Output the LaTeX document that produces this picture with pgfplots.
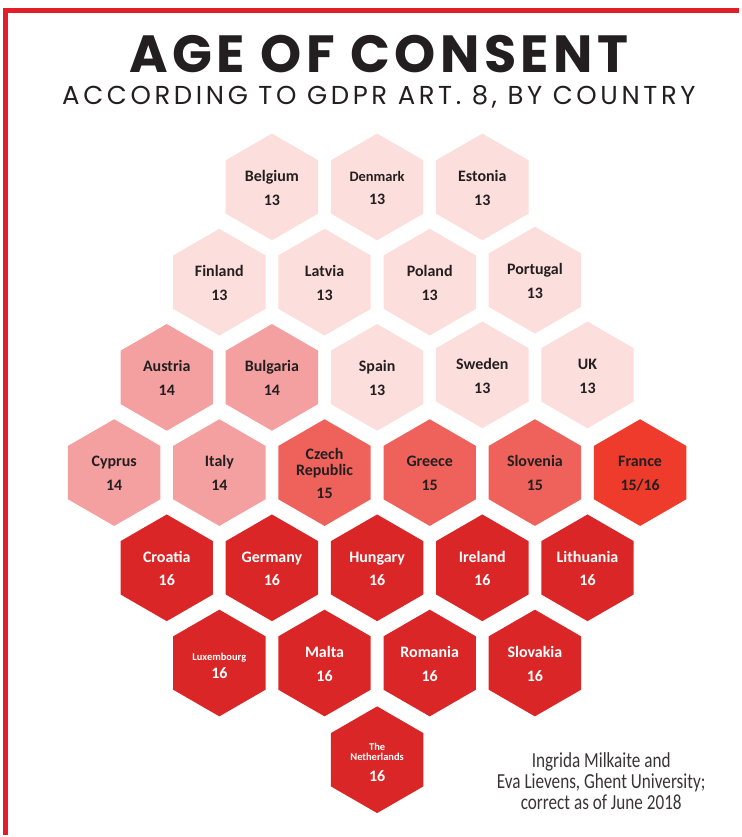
\documentclass[border=0pt]{standalone}
\usepackage{fontspec}
\setmainfont{Carlito}
\newfontfamily\titlefont[LetterSpace=8.5]{Poppins}
\newfontfamily\subfont[LetterSpace=14]{Poppins}
\newfontfamily\condfont[FakeStretch=0.8]{Carlito}
\usepackage{pgfplots}
\usepackage{pgfplotstable}
\pgfplotsset{compat=1.18}

\definecolor{c13}{RGB}{252,222,220}
\definecolor{c14}{RGB}{245,160,160}
\definecolor{c15}{RGB}{239,98,92}
\definecolor{cfr}{RGB}{239,59,43}
\definecolor{c16}{RGB}{218,38,39}
\definecolor{frame}{RGB}{226,30,40}
\definecolor{ink}{RGB}{35,31,32}

% pointy-top hexagon mark
\pgfdeclareplotmark{hexa}{%
  \pgfpathmoveto{\pgfpointpolar{90}{\pgfplotmarksize}}%
  \pgfpathlineto{\pgfpointpolar{150}{\pgfplotmarksize}}%
  \pgfpathlineto{\pgfpointpolar{210}{\pgfplotmarksize}}%
  \pgfpathlineto{\pgfpointpolar{270}{\pgfplotmarksize}}%
  \pgfpathlineto{\pgfpointpolar{330}{\pgfplotmarksize}}%
  \pgfpathlineto{\pgfpointpolar{30}{\pgfplotmarksize}}%
  \pgfpathclose
  \pgfusepathqfill}

% hexagon label layouts: name over age
\protected\def\sm{\fontsize{10.5}{11}\selectfont}
\protected\def\md{\fontsize{14.5}{16}\selectfont}
\protected\def\hx#1#2{\begin{tabular}{@{}c@{}}#1\\[8pt]#2\end{tabular}}
\protected\def\hxd#1#2{\begin{tabular}{@{}c@{}}{\md #1}\\[7pt]#2\end{tabular}}
\protected\def\hxt#1#2#3{\begin{tabular}{@{}c@{}}#1\\#2\\[7pt]#3\end{tabular}}
\protected\def\hxl#1#2{\begin{tabular}{@{}c@{}}{\sm #1}\\[2pt]#2\end{tabular}}
\protected\def\hxn#1#2#3{\begin{tabular}{@{}c@{}}{\sm #1}\\[-5.5pt]{\sm #2}\\[5pt]#3\end{tabular}}

% x, y in pixels of the page (y downwards)
\pgfplotstableread[col sep=comma]{
x,y,label
272.75,187.5,\hx{Belgium}{13}
378.25,187.5,\hxd{Denmark}{13}
483.75,187.5,\hx{Estonia}{13}
220,283,\hx{Finland}{13}
325.5,283,\hx{Latvia}{13}
431,283,\hx{Poland}{13}
536.5,281,\hx{Portugal}{13}
378.25,378.5,\hx{Spain}{13}
483.75,376,\hx{Sweden}{13}
589.25,376,\hx{UK}{13}
}\tblA
\pgfplotstableread[col sep=comma]{
x,y,label
167.25,378.5,\hx{Austria}{14}
272.75,378.5,\hx{Bulgaria}{14}
114.5,474,\hx{Cyprus}{14}
220,474,\hx{Italy}{14}
}\tblB
\pgfplotstableread[col sep=comma]{
x,y,label
325.5,474,\hxt{Czech}{Republic}{15}
431,474,\hx{Greece}{15}
536.5,474,\hx{Slovenia}{15}
}\tblC
\pgfplotstableread[col sep=comma]{
x,y,label
642,474,\hx{France}{15/16}
}\tblD
\pgfplotstableread[col sep=comma]{
x,y,label
167.25,569.5,\hx{Croatia}{16}
272.75,569.5,\hx{Germany}{16}
378.25,569.5,\hx{Hungary}{16}
483.75,569.5,\hx{Ireland}{16}
589.25,569.5,\hx{Lithuania}{16}
220,665,\hxl{Luxembourg}{16}
325.5,665,\hx{Malta}{16}
431,665,\hx{Romania}{16}
536.5,665,\hx{Slovakia}{16}
378.25,762,\hxn{The}{Netherlands}{16}
}\tblE

\begin{document}
\begin{tikzpicture}
\begin{axis}[
    width=741pt, height=837pt, scale only axis,
    xmin=0, xmax=741, ymin=0, ymax=837, y dir=reverse,
    hide axis, clip=false,
    only marks, mark=hexa, mark size=53.5pt,
    point meta=explicit symbolic,
    nodes near coords={\pgfplotspointmeta},
    every node near coord/.append style={anchor=center, yshift=-3pt,
        font=\fontsize{16}{16}\selectfont\bfseries, text=ink, inner sep=0pt},
]
\path (axis cs:0,0) rectangle (axis cs:741,837);
\draw[frame, line width=5pt] (axis cs:3.5,10.5) -- (axis cs:741,10.5);
\draw[frame, line width=5pt] (axis cs:6,8) -- (axis cs:6,837);

\addplot[mark options={draw=none, fill=c13}] table[x=x, y=y, meta=label] {\tblA};
\addplot[mark options={draw=none, fill=c14}] table[x=x, y=y, meta=label] {\tblB};
\addplot[mark options={draw=none, fill=c15}] table[x=x, y=y, meta=label] {\tblC};
\addplot[mark options={draw=none, fill=cfr}] table[x=x, y=y, meta=label] {\tblD};
\addplot[mark options={draw=none, fill=c16},
    every node near coord/.append style={text=white}] table[x=x, y=y, meta=label] {\tblE};

\node[anchor=base, text=ink, font=\titlefont\bfseries\fontsize{52.5}{52}\selectfont]
    at (axis cs:380,72.5) {AGE OF CONSENT};
\node[anchor=base, text=ink, font=\subfont\fontsize{26}{26}\selectfont]
    at (axis cs:380,105) {ACCORDING TO GDPR ART. 8, BY COUNTRY};
\node[anchor=base, align=center, text=ink!90,
    font=\condfont\fontsize{21.5}{21}\selectfont]
    at (axis cs:603,812) {Ingrida Milkaite and\\Eva Lievens, Ghent University;\\correct as of June 2018};
\end{axis}
\end{tikzpicture}
\end{document}
